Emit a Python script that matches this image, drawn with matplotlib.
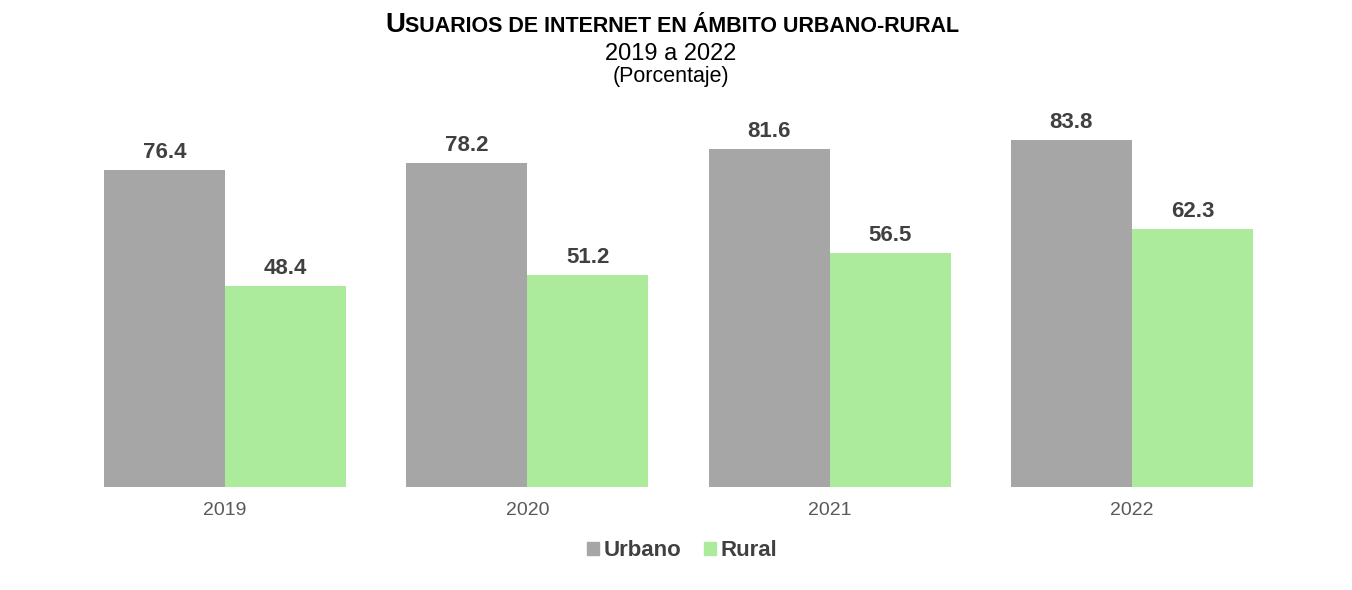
import matplotlib
matplotlib.use("Agg")
import matplotlib.pyplot as plt
import numpy as np
from matplotlib.patches import Patch

years = ["2019", "2020", "2021", "2022"]
urbano = [76.4, 78.2, 81.6, 83.8]
rural = [48.4, 51.2, 56.5, 62.3]

gray = "#A6A6A6"
green = "#ABEB9B"
label_color = "#404040"

plt.rcParams["font.family"] = ["Liberation Sans", "DejaVu Sans"]

fig = plt.figure(figsize=(13.52, 5.9), dpi=100)
ax = fig.add_axes([74 / 1352, 103 / 590, 1209 / 1352, 373 / 590])

x = np.arange(len(years))
w = 0.4
b1 = ax.bar(x - w / 2, urbano, w, color=gray, label="Urbano")
b2 = ax.bar(x + w / 2, rural, w, color=green, label="Rural")

for bars in (b1, b2):
    for r in bars:
        ax.annotate(f"{r.get_height():.1f}", (r.get_x() + r.get_width() / 2, r.get_height()),
                    xytext=(0, 12), textcoords="offset pixels", ha="center", va="baseline",
                    fontsize=16, fontweight="bold", color=label_color)

ax.set_xlim(-0.5, len(years) - 0.5)
ax.set_ylim(0, 90)
ax.set_xticks(x)
ax.set_xticklabels(years, fontsize=14, color="#595959")
ax.tick_params(axis="x", length=0, pad=11)
ax.set_yticks([])
for s in ax.spines.values():
    s.set_visible(False)

# title in small caps: big "U" followed by smaller capitals
fig.canvas.draw()
r = fig.canvas.get_renderer()
t1 = fig.text(0, 0, "U", fontsize=20, fontweight="bold", color="black", va="baseline")
t2 = fig.text(0, 0, "SUARIOS DE INTERNET EN ÁMBITO URBANO-RURAL", fontsize=15.5, fontweight="bold",
              color="black", va="baseline")
w1 = t1.get_window_extent(r).width
w2 = t2.get_window_extent(r).width
cx = 672
ybase = 590 - 32
left = cx - (w1 + w2) / 2
t1.set_position((left / 1352, ybase / 590))
t2.set_position(((left + w1) / 1352, ybase / 590))

fig.text(671 / 1352, 1 - 60 / 590, "2019 a 2022", ha="center", va="baseline", fontsize=17, color="black")
fig.text(671 / 1352, 1 - 82 / 590, "(Porcentaje)", ha="center", va="baseline", fontsize=15.5, color="black")

handles = [Patch(color=gray, label="Urbano"), Patch(color=green, label="Rural")]
leg = fig.legend(handles=handles, loc="center", bbox_to_anchor=(682 / 1352, 1 - 551 / 590), ncol=2,
                 frameon=False, handlelength=0.55, handleheight=0.55, handletextpad=0.2, columnspacing=1.0,
                 prop={"size": 16, "weight": "bold"})
for t in leg.get_texts():
    t.set_color(label_color)

fig.savefig("out.png", dpi=100)
